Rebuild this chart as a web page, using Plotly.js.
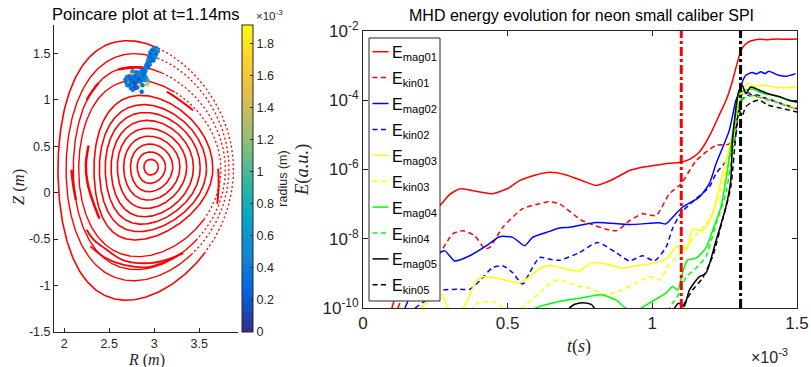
<!DOCTYPE html>
<html><head><meta charset="utf-8">
<script src="https://cdn.plot.ly/plotly-3.0.1.min.js"></script>
<style>html,body{margin:0;padding:0;background:#fff}#chart{width:811px;height:367px}</style>
</head><body><div id="chart"></div>
<script>
// ================= RIGHT PANEL DATA (t in units of 1e-3 s, values are log10 E) =================
const t_mag01 = [0.10,0.15,0.20,0.266,0.30,0.334,0.369,0.41,0.448,0.50,0.541,0.60,0.645,0.70,0.76,0.807,0.86,0.921,0.97,1.024,1.06,1.10,1.13,1.162,1.185,1.207,1.23,1.255,1.275,1.29,1.307,1.32,1.334,1.35,1.369,1.40,1.43,1.46,1.50];
const lg_mag01 = [-10,-8.6,-7.6,-7.04,-6.72,-6.56,-6.59,-6.66,-6.70,-6.55,-6.32,-6.15,-6.08,-6.15,-6.33,-6.46,-6.30,-6.03,-5.93,-5.86,-5.82,-5.79,-5.70,-5.50,-5.22,-4.87,-4.45,-4.00,-3.50,-3.03,-2.55,-2.40,-2.31,-2.27,-2.24,-2.25,-2.23,-2.24,-2.23];
const t_kin01 = [0.12,0.18,0.23,0.266,0.31,0.345,0.386,0.421,0.438,0.483,0.552,0.61,0.645,0.679,0.759,0.875,0.921,0.966,1.013,1.059,1.099,1.151,1.22,1.266,1.29,1.306,1.33,1.36,1.40,1.45,1.50];
const lg_kin01 = [-10,-9.0,-8.6,-8.40,-7.86,-7.77,-7.91,-8.29,-8.25,-7.67,-7.13,-6.99,-6.93,-6.99,-7.48,-7.77,-7.48,-7.28,-7.33,-6.70,-6.42,-5.75,-5.30,-5.26,-4.70,-3.85,-3.78,-3.88,-3.96,-4.10,-4.25];
const t_mag02 = [0.145,0.20,0.266,0.283,0.317,0.369,0.427,0.472,0.517,0.559,0.586,0.633,0.679,0.714,0.806,0.921,1.024,1.047,1.07,1.104,1.162,1.197,1.22,1.266,1.289,1.30,1.311,1.323,1.345,1.36,1.375,1.39,1.402,1.42,1.437,1.46,1.48,1.495];
const lg_mag02 = [-10,-9.0,-8.40,-8.35,-8.64,-8.49,-8.20,-7.94,-7.96,-8.20,-7.96,-7.82,-7.69,-7.67,-7.53,-7.59,-7.54,-7.57,-7.38,-7.09,-6.80,-6.41,-5.84,-4.87,-4.00,-3.81,-3.47,-3.28,-3.20,-3.24,-3.18,-3.23,-3.16,-3.22,-3.28,-3.31,-3.27,-3.23];
const t_kin02 = [0.18,0.23,0.266,0.334,0.369,0.403,0.448,0.483,0.517,0.552,0.576,0.61,0.645,0.679,0.748,0.81,0.875,0.921,0.966,1.007,1.047,1.07,1.10,1.15,1.197,1.22,1.266,1.289,1.306,1.33,1.36,1.40,1.45,1.50];
const lg_kin02 = [-10,-9.7,-9.49,-9.46,-9.46,-9.22,-8.83,-8.78,-8.98,-9.31,-8.98,-8.54,-8.59,-8.62,-8.40,-8.11,-8.40,-8.64,-8.49,-8.64,-8.25,-7.70,-7.25,-6.85,-6.51,-6.12,-5.64,-4.97,-4.00,-3.86,-3.84,-3.97,-4.12,-4.24];
const t_mag03 = [0.20,0.24,0.271,0.293,0.31,0.346,0.392,0.415,0.449,0.495,0.541,0.576,0.616,0.651,0.679,0.745,0.79,0.841,0.898,0.944,0.989,1.047,1.081,1.099,1.12,1.139,1.174,1.208,1.237,1.255,1.277,1.30,1.311,1.33,1.356,1.38,1.40,1.43,1.46,1.50];
const lg_mag03 = [-10,-9.7,-9.60,-9.99,-10.2,-10,-9.22,-9.10,-9.12,-9.20,-9.27,-9.10,-8.83,-8.78,-8.83,-8.93,-8.69,-8.73,-8.85,-8.78,-8.73,-8.59,-8.25,-8.20,-8.30,-7.72,-7.77,-7.29,-6.32,-5.74,-4.97,-4.00,-3.66,-3.52,-3.60,-3.57,-3.58,-3.64,-3.63,-3.61];
const t_kin03 = [0.37,0.396,0.448,0.472,0.49,0.53,0.576,0.61,0.656,0.679,0.748,0.783,0.841,0.898,0.944,0.989,1.024,1.059,1.10,1.15,1.20,1.24,1.27,1.30,1.32,1.35,1.40,1.45,1.50];
const lg_kin03 = [-10.1,-9.86,-9.81,-9.91,-10.1,-10.1,-9.81,-9.57,-9.24,-9.19,-9.38,-9.43,-9.62,-9.47,-9.28,-9.10,-9.19,-8.73,-8.40,-7.90,-7.40,-6.50,-5.50,-4.30,-3.95,-3.88,-3.98,-4.12,-4.22];
const t_mag04 = [0.57,0.61,0.679,0.748,0.823,0.875,0.91,0.95,0.989,1.047,1.07,1.088,1.104,1.122,1.151,1.185,1.208,1.237,1.26,1.289,1.30,1.32,1.35,1.38,1.41,1.45,1.50];
const lg_mag04 = [-10.1,-9.96,-9.81,-9.72,-9.62,-9.77,-10.01,-10.05,-9.86,-9.57,-9.38,-9.48,-8.99,-8.61,-8.56,-8.27,-7.77,-7.09,-6.00,-4.29,-3.81,-3.72,-3.68,-3.80,-3.84,-3.93,-4.05];
const t_kin04 = [1.05,1.07,1.094,1.117,1.151,1.185,1.22,1.254,1.285,1.30,1.32,1.35,1.38,1.42,1.46,1.50];
const lg_kin04 = [-10.1,-9.86,-9.57,-9.10,-8.85,-8.52,-7.57,-6.70,-5.00,-4.10,-3.92,-3.86,-3.95,-4.03,-4.15,-4.27];
const t_mag05 = [0.70,0.73,0.76,0.79,0.81,1.07,1.09,1.11,1.128,1.162,1.185,1.22,1.254,1.271,1.277,1.294,1.30,1.311,1.323,1.34,1.37,1.40,1.44,1.47,1.50];
const lg_mag05 = [-10.1,-9.90,-9.85,-9.90,-10.1,-10.05,-9.86,-9.95,-9.48,-9.10,-9.00,-8.06,-7.09,-6.32,-5.16,-3.90,-3.71,-3.57,-3.81,-3.62,-3.71,-3.81,-3.90,-4.00,-4.05];
const t_kin05 = [1.09,1.104,1.139,1.173,1.208,1.242,1.271,1.30,1.311,1.323,1.345,1.37,1.40,1.45,1.50];
const lg_kin05 = [-10.1,-9.96,-9.48,-9.14,-8.52,-7.48,-6.51,-4.29,-4.43,-4.19,-4.05,-4.00,-4.14,-4.24,-4.34];
const seriesNames = ['E<sub>mag01</sub>','E<sub>kin01</sub>','E<sub>mag02</sub>','E<sub>kin02</sub>','E<sub>mag03</sub>','E<sub>kin03</sub>','E<sub>mag04</sub>','E<sub>kin04</sub>','E<sub>mag05</sub>','E<sub>kin05</sub>'];
const seriesColors = ['#ff0000','#ff0000','#0000ff','#0000ff','#ffff00','#ffff00','#00ff00','#00ff00','#000000','#000000'];
const vlineT = [1.10, 1.305];
const vlineColors = ['#ff0000','#000000'];
const xTicks = [0, 0.5, 1, 1.5];
const yTickExp = [-10, -8, -6, -4, -2];

// ================= LEFT PANEL DATA =================
// closed flux surfaces: [Rin, Rout, Zmid, Ztop, Rtop, Zbot, Rbot]
const surfRin  = [2.885,2.81,2.735,2.66,2.59,2.52,2.455,2.39,2.33, 2.16,2.10,2.02,1.93];
const surfRout = [3.045,3.125,3.205,3.285,3.36,3.435,3.51,3.58,3.65, 3.74,3.79,3.83,3.88];
const surfZmid = [0.28,0.28,0.28,0.28,0.28,0.27,0.27,0.26,0.26, 0.25,0.25,0.25,0.25];
const surfZtop = [0.36,0.44,0.525,0.61,0.695,0.78,0.865,0.95,1.05, 1.215,1.36,1.50,1.64];
const surfRtop = [2.96,2.955,2.95,2.94,2.93,2.92,2.90,2.88,2.85, 2.80,2.78,2.78,2.70];
const surfZbot = [0.19,0.10,0.01,-0.08,-0.17,-0.26,-0.34,-0.42,-0.51, -0.69,-0.83,-0.95,-1.16];
const surfRbot = [2.96,2.95,2.94,2.93,2.91,2.89,2.86,2.83,2.79, 2.82,2.80,2.77,2.69];
const surfWidth = [1.6,1.6,1.6,1.6,1.6,1.6,1.6,1.6,1.6, 1.4,1.4,1.4,1.6];
// angular span (deg) of the sparse, broken part on the low-field side (0 = none)
const surfSparseFrom = [0,0,0,0,0,0,0,0,0, -35,-45,-50,-40];
const surfSparseTo   = [0,0,0,0,0,0,0,0,0, 60,70,75,70];
// island crescents (R,Z points read along each arc)
const islandR = [
  [2.378,2.33,2.28,2.25],
  [2.60,2.70,2.80,2.95],
  [3.14,3.25,3.35,3.43],
  [2.27,2.24,2.26,2.32,2.39],
  [2.08,2.10,2.13],
  [2.25,2.32,2.45,2.66,2.95,3.15,3.32],
  [2.29,2.45,2.66,2.95,3.32],
  [3.71,3.715,3.70]
];
const islandZ = [
  [1.18,1.12,1.05,1.00],
  [1.33,1.345,1.35,1.34],
  [1.09,1.02,0.95,0.89],
  [0.51,0.30,0.10,-0.10,-0.28],
  [0.245,0.08,-0.08],
  [-0.40,-0.50,-0.60,-0.73,-0.76,-0.72,-0.65],
  [-0.58,-0.70,-0.78,-0.80,-0.65],
  [0.26,0.08,-0.12]
];
const islandW = [2.5,2.5,2.0,2.5,2.5,1.8,1.8,2.0];
// injected fragments: R, Z, radius (x1e-3 m)
const fragR = [3.02,3.00,2.985,3.03,2.97,3.00,3.04,2.955,2.99,3.02,2.96,2.94,2.98,3.01,2.95,2.97,2.93,2.96,2.99,2.94,2.92,2.95,2.91,2.93,2.90,
  2.88,2.86,2.90,2.84,2.87,2.83,2.89,
  2.70,2.73,2.76,2.79,2.82,2.85,2.88,2.91,2.68,2.71,2.74,2.77,2.80,2.83,2.86,2.89,2.69,2.72,2.75,2.78,2.81,2.84,2.93,2.70,2.73,2.76,2.79,2.83,2.87,2.92,2.74,2.786,2.81,2.76,2.86,2.749,2.80,2.76];
const fragZ = [1.56,1.555,1.545,1.54,1.53,1.52,1.525,1.51,1.50,1.495,1.485,1.47,1.47,1.46,1.45,1.44,1.43,1.42,1.425,1.40,1.39,1.38,1.37,1.355,1.345,
  1.33,1.315,1.31,1.30,1.29,1.28,1.275,
  1.25,1.26,1.265,1.255,1.25,1.245,1.255,1.24,1.22,1.215,1.22,1.225,1.215,1.22,1.21,1.215,1.19,1.187,1.185,1.18,1.185,1.19,1.205,1.16,1.155,1.15,1.155,1.155,1.16,1.17,1.13,1.126,1.135,1.11,1.09,1.295,1.30,1.31];
const fragRad = [0.45,0.35,0.5,0.7,0.3,0.25,0.55,0.4,0.6,0.3,0.2,0.45,0.35,0.5,0.3,0.25,0.55,0.4,0.3,0.2,0.35,0.5,0.3,0.25,0.45,
  0.3,0.4,0.35,0.6,0.25,0.5,0.3,
  0.4,0.3,0.45,0.25,0.35,0.5,0.3,0.6,0.35,0.5,0.2,0.3,0.4,0.15,0.3,0.45,0.3,0.8,0.35,0.1,0.3,0.4,0.85,0.45,0.3,0.5,0.2,1.7,0.35,1.55,0.4,0.05,0.3,0.35,0.3,1.6,0.35,0.5];
const cbTicks = [0,0.2,0.4,0.6,0.8,1,1.2,1.4,1.6,1.8];

// ================= BUILD =================
const W = 811, H = 367;
const px = x => x / W, py = y => 1 - y / H;
const FONT = 'Liberation Sans, Arial, Helvetica, sans-serif';
const SERIF = 'Liberation Serif, DejaVu Serif, serif';
const INK = '#262626';
const parula = [[0,'#352a87'],[0.125,'#0363e1'],[0.25,'#1485d4'],[0.375,'#06a7c6'],[0.5,'#38b99e'],[0.625,'#92bf73'],[0.75,'#d9ba56'],[0.875,'#fcce2e'],[1,'#f9fb0e']];

function surfacePts(i, d0, d1){
  const Rin=surfRin[i],Rout=surfRout[i],Zm=surfZmid[i];
  const R0=(Rin+Rout)/2, a=(Rout-Rin)/2;
  const cl=v=>Math.max(-1,Math.min(1,v));
  const du=Math.asin(cl((R0-surfRtop[i])/a)), dl=Math.asin(cl((R0-surfRbot[i])/a));
  const R=[],Z=[];
  for(let k=d0;k<=d1;k++){
    const th=k*Math.PI/180, s=Math.sin(th);
    const d = s>=0?du:dl;
    R.push(R0+a*Math.cos(th+d*s));
    Z.push(s>=0? Zm+(surfZtop[i]-Zm)*s : Zm+(Zm-surfZbot[i])*s);
  }
  return {R,Z};
}

const traces = [];
for(let i=0;i<surfRin.length;i++){
  const f=surfSparseFrom[i], t=surfSparseTo[i];
  if(f===t){
    const s=surfacePts(i,0,360);
    traces.push({type:'scatter',mode:'lines',x:s.R,y:s.Z,xaxis:'x',yaxis:'y',
      line:{color:'#ff0000',width:surfWidth[i]},hoverinfo:'skip',showlegend:false});
  } else {
    const s=surfacePts(i,t,360+f);
    traces.push({type:'scatter',mode:'lines',x:s.R,y:s.Z,xaxis:'x',yaxis:'y',
      line:{color:'#ff0000',width:surfWidth[i]},hoverinfo:'skip',showlegend:false});
    const q=surfacePts(i,f,t);
    traces.push({type:'scatter',mode:'lines',x:q.R,y:q.Z,xaxis:'x',yaxis:'y',
      line:{color:'#ff0000',width:1.3,dash:'2px,2.5px'},hoverinfo:'skip',showlegend:false});
  }
}
for(let i=0;i<islandR.length;i++){
  traces.push({type:'scatter',mode:'lines',x:islandR[i],y:islandZ[i],xaxis:'x',yaxis:'y',
    line:{color:'#ff0000',width:islandW[i],shape:'spline'},hoverinfo:'skip',showlegend:false});
}
traces.push({type:'scatter',mode:'markers',x:fragR,y:fragZ,xaxis:'x',yaxis:'y',showlegend:false,
  marker:{size:4.5,color:fragRad,colorscale:parula,cmin:0,cmax:1.914,
    colorbar:{x:px(242),xanchor:'left',xref:'paper',y:py(332),yanchor:'bottom',yref:'paper',
      len:307/H,lenmode:'fraction',thickness:11,thicknessmode:'pixels',xpad:0,ypad:0,
      outlinecolor:INK,outlinewidth:1,tickvals:cbTicks,ticktext:cbTicks.map(String),
      ticks:'inside',ticklen:3,tickcolor:INK,tickfont:{family:FONT,size:12.5,color:INK},
      title:{text:'radius (m)',side:'right',font:{family:FONT,size:12.5,color:INK}}}}});

const tS=[t_mag01,t_kin01,t_mag02,t_kin02,t_mag03,t_kin03,t_mag04,t_kin04,t_mag05,t_kin05];
const lS=[lg_mag01,lg_kin01,lg_mag02,lg_kin02,lg_mag03,lg_kin03,lg_mag04,lg_kin04,lg_mag05,lg_kin05];
const DASH='5px,3.5px';
for(let i=0;i<10;i++){
  traces.push({type:'scatter',mode:'lines',x:tS[i],y:lS[i].map(v=>Math.pow(10,v)),xaxis:'x2',yaxis:'y2',
    name:seriesNames[i],showlegend:false,line:{color:seriesColors[i],width:1.5,shape:'spline',smoothing:0.6,dash:(i%2?DASH:'solid')}});
}

const shapes=[], ann=[];
vlineT.forEach((t,i)=>shapes.push({type:'line',xref:'x2',yref:'y2 domain',x0:t,x1:t,y0:0,y1:1,
  line:{color:vlineColors[i],width:3,dash:'9px,3px,3px,3px'}}));
// legend box
shapes.push({type:'rect',xref:'paper',yref:'paper',x0:px(369),x1:px(440),y0:py(301),y1:py(38),
  fillcolor:'#ffffff',line:{color:INK,width:1}});
for(let i=0;i<10;i++){
  const yy=51.7+25.9*i;
  shapes.push({type:'line',xref:'paper',yref:'paper',x0:px(372.5),x1:px(388.5),y0:py(yy),y1:py(yy),
    line:{color:seriesColors[i],width:1.5,dash:(i%2?DASH:'solid')}});
  ann.push({xref:'paper',yref:'paper',x:px(390),y:py(yy+2),xanchor:'left',yanchor:'middle',showarrow:false,
    text:seriesNames[i],font:{family:FONT,size:16,color:'#000'}});
}
ann.push({xref:'paper',yref:'paper',x:px(146),y:py(14),text:'Poincare plot at t=1.14ms',showarrow:false,
  font:{family:FONT,size:16.5,color:'#000'},xanchor:'center',yanchor:'middle'});
ann.push({xref:'paper',yref:'paper',x:px(581),y:py(15),text:'MHD energy evolution for neon small caliber SPI',showarrow:false,
  font:{family:FONT,size:16,color:'#000'},xanchor:'center',yanchor:'middle'});
ann.push({xref:'paper',yref:'paper',x:px(146),y:py(360),text:'<i>R</i> (<i>m</i>)',showarrow:false,
  font:{family:SERIF,size:16,color:INK},xanchor:'center',yanchor:'middle'});
ann.push({xref:'paper',yref:'paper',x:px(18),y:py(187),text:'<i>Z</i> (<i>m</i>)',showarrow:false,textangle:-90,
  font:{family:SERIF,size:16.5,color:INK},xanchor:'center',yanchor:'middle'});
ann.push({xref:'paper',yref:'paper',x:px(579),y:py(346),text:'<i>t</i>(<i>s</i>)',showarrow:false,
  font:{family:SERIF,size:18,color:INK},xanchor:'center',yanchor:'middle'});
ann.push({xref:'paper',yref:'paper',x:px(303),y:py(170),text:'<i>E</i>(<i>a.u.</i>)',showarrow:false,textangle:-90,
  font:{family:SERIF,size:18.5,color:INK},xanchor:'center',yanchor:'middle'});
ann.push({xref:'paper',yref:'paper',x:px(749),y:py(356),text:'×10<sup>-3</sup>',showarrow:false,
  font:{family:FONT,size:16,color:INK},xanchor:'left',yanchor:'middle'});
ann.push({xref:'paper',yref:'paper',x:px(254),y:py(15),text:'×10<sup>-3</sup>',showarrow:false,
  font:{family:FONT,size:11.5,color:INK},xanchor:'left',yanchor:'middle'});

const axBase={showgrid:false,zeroline:false,showline:true,linecolor:INK,linewidth:1,ticks:'inside',ticklen:4,tickcolor:INK};
const layout={
  width:W,height:H,margin:{l:0,r:0,t:0,b:0},paper_bgcolor:'#fff',plot_bgcolor:'rgba(0,0,0,0)',showlegend:false,
  xaxis:Object.assign({},axBase,{domain:[px(54),px(238)],range:[1.886,3.93],tickvals:[2,2.5,3,3.5],ticktext:['2','2.5','3','3.5'],
    tickfont:{family:FONT,size:12.5,color:INK},anchor:'y'}),
  yaxis:Object.assign({},axBase,{domain:[py(332),py(25)],range:[-1.503,1.809],tickvals:[-1.5,-1,-0.5,0,0.5,1,1.5],
    ticktext:['-1.5','-1','-0.5','0','0.5','1','1.5'],tickfont:{family:FONT,size:12.5,color:INK},anchor:'x'}),
  xaxis2:Object.assign({},axBase,{domain:[px(363),px(797)],range:[0,1.5],tickvals:xTicks,ticktext:xTicks.map(String),
    mirror:'ticks',ticklen:5,tickfont:{family:FONT,size:17,color:INK},anchor:'y2'}),
  yaxis2:Object.assign({},axBase,{domain:[py(308),py(31)],type:'log',range:[-10,-2],tickvals:yTickExp.map(e=>Math.pow(10,e)),
    ticktext:yTickExp.map(e=>'10<sup>'+e+'</sup>'),mirror:'ticks',ticklen:5,tickfont:{family:FONT,size:17,color:INK},anchor:'x2'}),
  shapes:shapes,annotations:ann
};
Plotly.newPlot('chart',traces,layout,{displayModeBar:false,staticPlot:true});
</script></body></html>
